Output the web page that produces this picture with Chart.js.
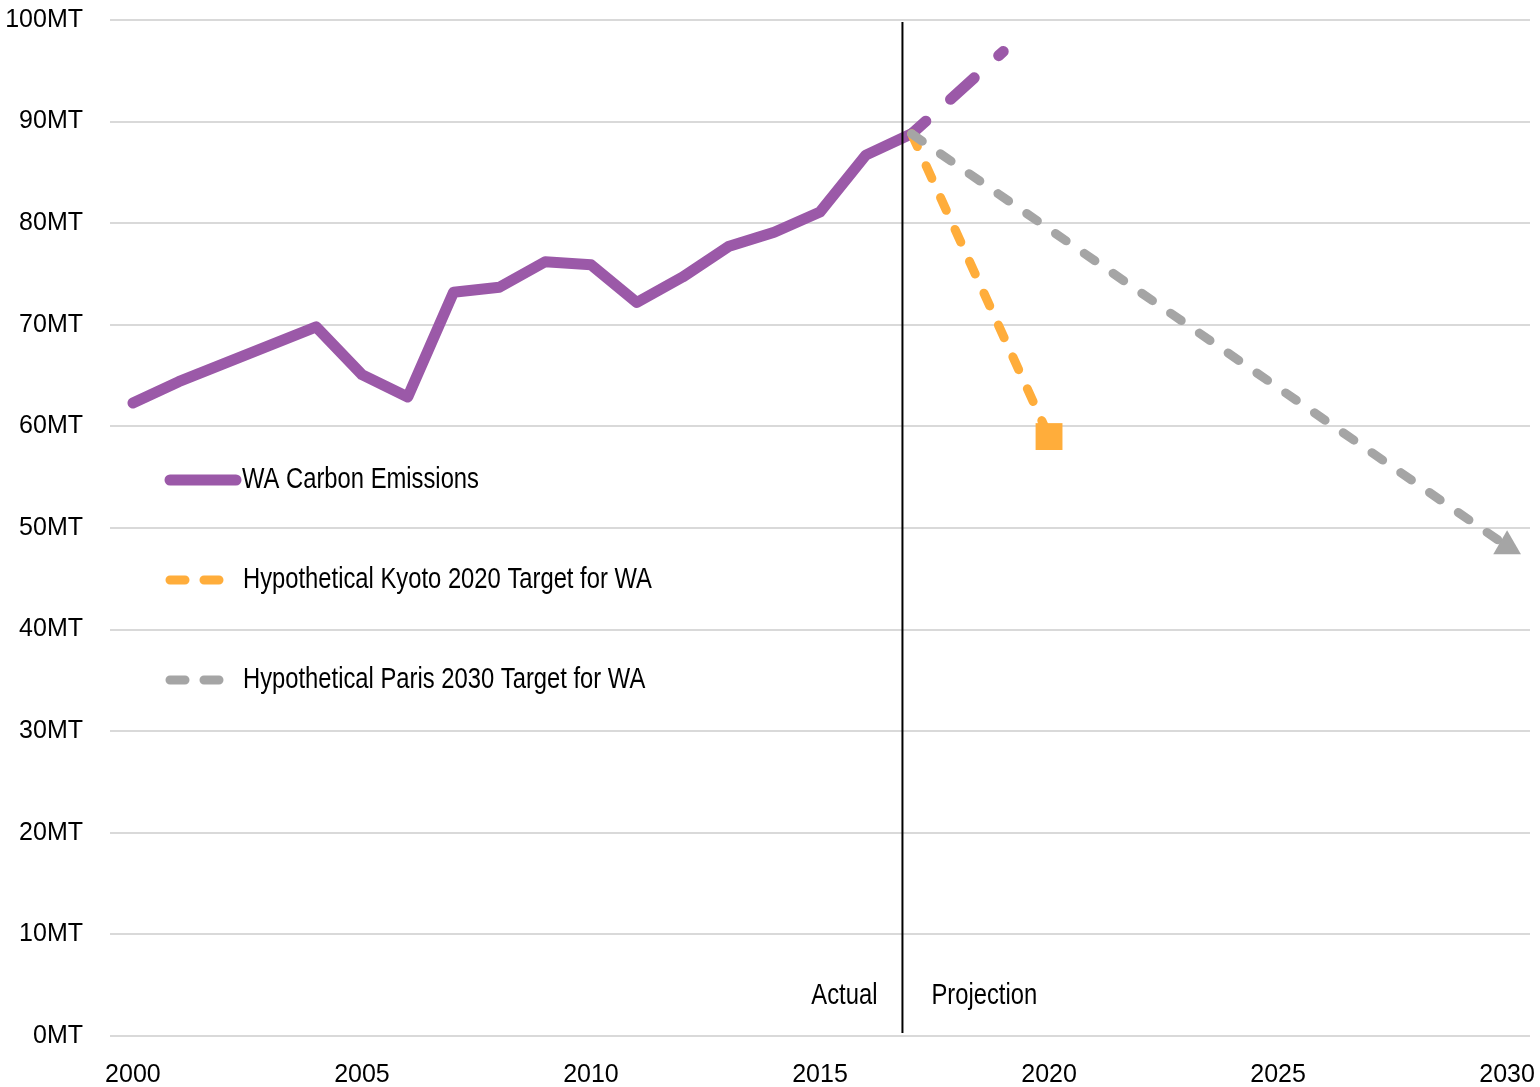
<!DOCTYPE html>
<html>
<head>
<meta charset="utf-8">
<script src="https://cdn.jsdelivr.net/npm/chart.js@4.4.1/dist/chart.umd.min.js"></script>
<style>
html, body { margin: 0; padding: 0; background: #fff; }
#wrap { width: 1540px; height: 1087px; }
</style>
</head>
<body>
<div id="wrap"><canvas id="myChart" width="1540" height="1087"></canvas></div>
<script>
// data (million tonnes)
var xTickYears = [2000, 2005, 2010, 2015, 2020, 2025, 2030];
var yTickValues = [0, 10, 20, 30, 40, 50, 60, 70, 80, 90, 100];

var actualYears = [2000, 2001, 2002, 2003, 2004, 2005, 2006, 2007, 2008,
                   2009, 2010, 2011, 2012, 2013, 2014, 2015, 2016, 2017];
var actualValues = [62.3, 64.4, 66.2, 68.0, 69.8, 65.1, 62.9, 73.2, 73.7,
                    76.2, 75.9, 72.2, 74.7, 77.7, 79.1, 81.1, 86.7, 88.8];

var projYears = [2017, 2018, 2019];
var projValues = [88.8, 92.8, 96.9];

var kyotoYears = [2017, 2020];
var kyotoValues = [88.8, 59.0];

var parisYears = [2017, 2030];
var parisValues = [88.8, 48.2];

var dividerYear = 2016.8;
var seriesNames = [
    "WA Carbon Emissions",
    "Hypothetical Kyoto 2020 Target for WA",
    "Hypothetical Paris 2030 Target for WA"
];

var PURPLE = "#9b59a8";
var ORANGE = "#ffad3b";
var GREY = "#a5a5a5";
var FONT = "'Liberation Sans', Arial, sans-serif";
var NARROW = 0.82;   // squeeze to look like Arial Narrow

function pts(xs, ys) {
    return xs.map(function (x, i) { return { x: x, y: ys[i] }; });
}

function lastOnly(r) {
    return function (ctx) {
        return ctx.dataIndex === ctx.dataset.data.length - 1 ? r : 0;
    };
}

function narrowText(ctx, text, x, y, align) {
    ctx.save();
    ctx.translate(x, y);
    ctx.scale(NARROW, 1);
    ctx.textAlign = align;
    ctx.fillText(text, 0, 0);
    ctx.restore();
}

// vertical divider with Actual / Projection captions
var dividerPlugin = {
    id: "divider",
    afterDatasetsDraw: function (chart) {
        var ctx = chart.ctx;
        var area = chart.chartArea;
        var x = chart.scales.x.getPixelForValue(dividerYear);
        ctx.save();
        ctx.strokeStyle = "#000";
        ctx.lineWidth = 2;
        ctx.beginPath();
        ctx.moveTo(x, area.top + 2);
        ctx.lineTo(x, area.bottom - 3);
        ctx.stroke();
        ctx.fillStyle = "#000";
        ctx.font = "29px " + FONT;
        ctx.textBaseline = "middle";
        narrowText(ctx, "Actual", x - 25, area.bottom - 40, "right");
        narrowText(ctx, "Projection", x + 29, area.bottom - 40, "left");
        ctx.restore();
    }
};

// legend sits inside the plot on the left
var legendPlugin = {
    id: "insideLegend",
    afterDraw: function (chart) {
        var ctx = chart.ctx;
        var styles = [
            { color: PURPLE, width: 11, dash: [], end: 236 },
            { color: ORANGE, width: 9, dash: [15, 19], end: 228 },
            { color: GREY, width: 9, dash: [15, 19], end: 228 }
        ];
        ctx.save();
        ctx.font = "29px " + FONT;
        ctx.textBaseline = "middle";
        seriesNames.forEach(function (name, i) {
            var y = 480 + i * 100;
            var s = styles[i];
            ctx.strokeStyle = s.color;
            ctx.lineWidth = s.width;
            ctx.lineCap = "round";
            ctx.setLineDash(s.dash);
            ctx.beginPath();
            ctx.moveTo(170, y);
            ctx.lineTo(s.end, y);
            ctx.stroke();
            ctx.setLineDash([]);
            ctx.fillStyle = "#000";
            narrowText(ctx, name, i === 0 ? 242 : 243, y, "left");
        });
        ctx.restore();
    }
};

new Chart("myChart", {
    type: "line",
    data: {
        datasets: [{
            label: seriesNames[0],
            data: pts(actualYears, actualValues),
            borderColor: PURPLE,
            borderWidth: 11,
            borderCapStyle: "round",
            borderJoinStyle: "round",
            pointRadius: 0,
            tension: 0,
            order: 4
        }, {
            label: seriesNames[0] + " (projection)",
            data: pts(projYears, projValues),
            borderColor: PURPLE,
            borderWidth: 11,
            borderCapStyle: "round",
            borderDash: [32, 33],
            borderDashOffset: 13,
            pointRadius: 0,
            tension: 0,
            order: 3
        }, {
            label: seriesNames[1],
            data: pts(kyotoYears, kyotoValues),
            borderColor: ORANGE,
            borderWidth: 9,
            borderCapStyle: "round",
            borderDash: [14, 21],
            pointStyle: "rect",
            pointRadius: lastOnly(19),
            pointBackgroundColor: ORANGE,
            pointBorderWidth: 0,
            tension: 0,
            order: 2
        }, {
            label: seriesNames[2],
            data: pts(parisYears, parisValues),
            borderColor: GREY,
            borderWidth: 9,
            borderCapStyle: "round",
            borderDash: [13, 22],
            pointStyle: "triangle",
            pointRadius: lastOnly(16),
            pointBackgroundColor: GREY,
            pointBorderWidth: 0,
            tension: 0,
            order: 1
        }]
    },
    options: {
        responsive: false,
        animation: false,
        events: [],
        layout: { autoPadding: false, padding: { top: 20, right: 10, left: 0, bottom: 0 } },
        plugins: {
            legend: { display: false },
            tooltip: { enabled: false },
            title: { display: false }
        },
        scales: {
            x: {
                type: "linear",
                min: 1999.5,
                max: 2030.5,
                afterBuildTicks: function (scale) {
                    scale.ticks = xTickYears.map(function (v) { return { value: v }; });
                },
                afterFit: function (scale) {
                    scale.height = 51;
                    scale.paddingLeft = 0;
                    scale.paddingRight = 0;
                },
                grid: { display: false },
                border: { display: false },
                ticks: {
                    color: "#000",
                    font: { size: 25, family: FONT },
                    padding: 16,
                    maxRotation: 0,
                    autoSkip: false,
                    callback: function (v) { return String(v); }
                }
            },
            y: {
                min: 0,
                max: 100,
                afterBuildTicks: function (scale) {
                    scale.ticks = yTickValues.map(function (v) { return { value: v }; });
                },
                afterFit: function (scale) {
                    scale.width = 110;
                    scale.paddingTop = 0;
                    scale.paddingBottom = 0;
                },
                grid: { color: "#d9d9d9", lineWidth: 2, drawTicks: false },
                border: { display: false },
                ticks: {
                    color: "#000",
                    font: { size: 25, family: FONT },
                    padding: 27,
                    callback: function (v) { return v + "MT"; }
                }
            }
        }
    },
    plugins: [dividerPlugin, legendPlugin]
});
</script>
</body>
</html>
